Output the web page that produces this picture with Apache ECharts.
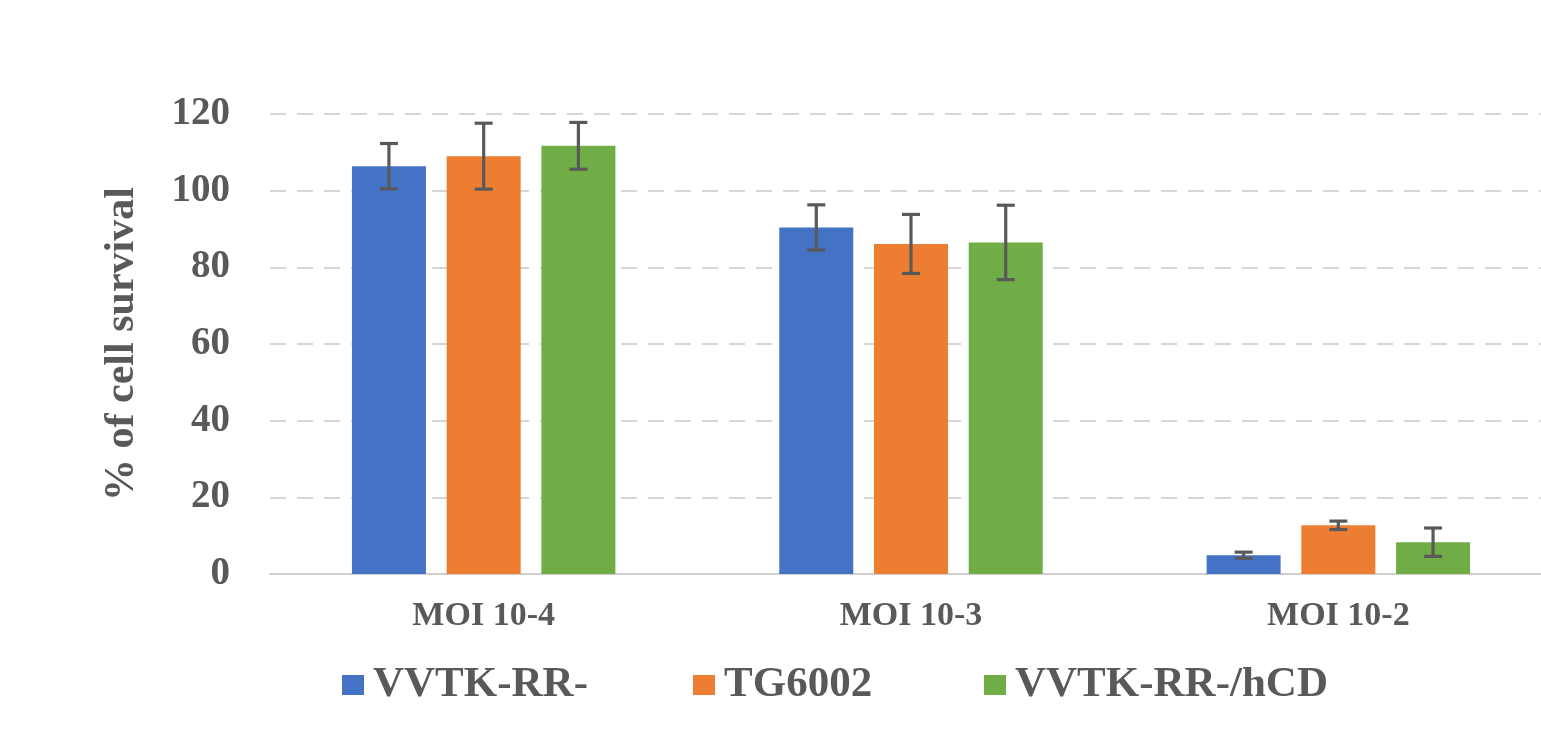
<!DOCTYPE html>
<html>
<head>
<meta charset="utf-8">
<script src="https://cdn.jsdelivr.net/npm/echarts@6/dist/echarts.min.js"></script>
<style>
html,body{margin:0;padding:0;background:#fff;overflow:hidden;}
#chart{width:1560px;height:732px;}
</style>
</head>
<body>
<div id="chart"></div>
<script>
var categories = ['MOI 10-4', 'MOI 10-3', 'MOI 10-2'];
var seriesNames = ['VVTK-RR-', 'TG6002', 'VVTK-RR-/hCD'];
var vvtkValues = [106.4, 90.4, 4.9];
var vvtkErrors = [5.9, 5.9, 0.8];
var tgValues = [109.0, 86.1, 12.7];
var tgErrors = [8.6, 7.7, 1.1];
var hcdValues = [111.7, 86.5, 8.3];
var hcdErrors = [6.1, 9.7, 3.7];
var yTicks = [0, 20, 40, 60, 80, 100, 120];

var colors = ['#4472C4', '#ED7D31', '#70AD47'];
var textColor = '#595959';
var fontFamily = '"Liberation Serif", "Times New Roman", serif';
var barW = 74;
var barGapRatio = 0.28;

var values = [vvtkValues, tgValues, hcdValues];
var errors = [vvtkErrors, tgErrors, hcdErrors];

var chart = echarts.init(document.getElementById('chart'));

var series = [];
values.forEach(function (vals, i) {
  series.push({
    name: seriesNames[i],
    type: 'bar',
    data: vals,
    barWidth: barW,
    barGap: (barGapRatio * 100) + '%',
    itemStyle: { color: colors[i] },
    silent: true,
    z: 2
  });
});
values.forEach(function (vals, i) {
  var errData = vals.map(function (v, k) { return [k, v - errors[i][k], v + errors[i][k]]; });
  series.push({
    name: seriesNames[i] + ' error',
    type: 'custom',
    silent: true,
    z: 5,
    data: errData,
    encode: { x: 0, y: [1, 2] },
    renderItem: function (params, api) {
      var k = api.value(0);
      var lo = api.coord([k, api.value(1)]);
      var hi = api.coord([k, api.value(2)]);
      var off = (i - 1) * barW * (1 + barGapRatio);
      var x = lo[0] + off;
      var cap = 9;
      var st = { stroke: '#595959', lineWidth: 3.2 };
      return {
        type: 'group',
        children: [
          { type: 'line', shape: { x1: x, y1: lo[1], x2: x, y2: hi[1] }, style: st },
          { type: 'line', shape: { x1: x - cap, y1: lo[1], x2: x + cap, y2: lo[1] }, style: st },
          { type: 'line', shape: { x1: x - cap, y1: hi[1], x2: x + cap, y2: hi[1] }, style: st }
        ]
      };
    }
  });
});

function legendFor(i, left) {
  return {
    data: [seriesNames[i]],
    left: left,
    top: 657,
    itemWidth: 22,
    itemHeight: 20,
    itemGap: 0,
    selectedMode: false,
    icon: 'rect',
    textStyle: {
      color: textColor,
      fontFamily: fontFamily,
      fontWeight: 'bold',
      fontSize: 43,
      lineHeight: 46,
      padding: [0, 0, 0, 4]
    }
  };
}

chart.setOption({
  animation: false,
  color: colors,
  grid: { left: 270, top: 114, width: 1282, height: 460, containLabel: false },
  legend: [legendFor(0, 337), legendFor(1, 688), legendFor(2, 979)],
  xAxis: {
    type: 'category',
    data: categories,
    axisTick: { show: false },
    axisLine: { lineStyle: { color: '#d0d0d0', width: 2 } },
    axisLabel: {
      color: textColor,
      fontFamily: fontFamily,
      fontWeight: 'bold',
      fontSize: 34,
      margin: 25
    }
  },
  yAxis: {
    type: 'value',
    min: yTicks[0],
    max: yTicks[yTicks.length - 1],
    interval: yTicks[1] - yTicks[0],
    name: '% of cell survival',
    nameLocation: 'middle',
    nameRotate: 90,
    nameGap: 127,
    nameTextStyle: {
      color: textColor,
      fontFamily: fontFamily,
      fontWeight: 'bold',
      fontSize: 42
    },
    axisLine: { show: false },
    axisTick: { show: false },
    axisLabel: {
      color: textColor,
      fontFamily: fontFamily,
      fontWeight: 'bold',
      fontSize: 39,
      margin: 40
    },
    splitLine: {
      show: true,
      lineStyle: { color: '#d6d6d6', width: 2, type: [16, 11] }
    }
  },
  series: series
});
</script>
</body>
</html>
